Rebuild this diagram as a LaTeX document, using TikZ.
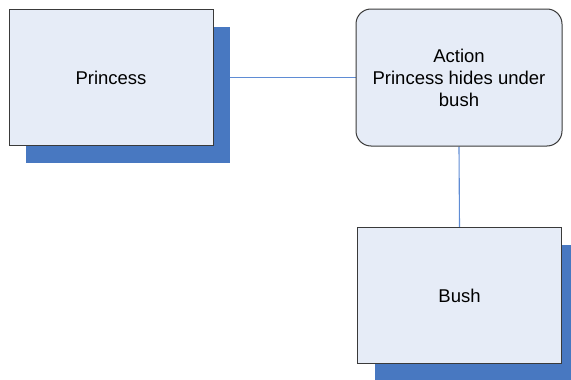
\documentclass[tikz,border=0pt]{standalone}
\usepackage{fontspec}
\setmainfont{Liberation Sans}
\usetikzlibrary{shadows,backgrounds}
\definecolor{boxfill}{HTML}{E6ECF7}
\definecolor{shadowblue}{HTML}{4878C1}
\definecolor{linkblue}{HTML}{5F8CD4}
\definecolor{edgegray}{HTML}{3A3A3A}
\tikzset{
  entity/.style={draw=edgegray, line width=1pt, fill=boxfill,
    minimum width=204pt, minimum height=136pt, inner sep=0pt,
    align=center, font=\fontsize{18.5}{22}\selectfont,
    general shadow={shadow xshift=17pt, shadow yshift=-17pt, fill=shadowblue}},
  action/.style={draw=edgegray, line width=1pt, fill=boxfill, rounded corners=15pt,
    minimum width=206pt, minimum height=137pt, inner sep=0pt,
    align=center, font=\fontsize{18.5}{22}\selectfont},
  link/.style={draw=linkblue, line width=1.1pt}
}
\begin{document}
\begin{tikzpicture}[x=1pt,y=-1pt]
  \useasboundingbox (0,0) rectangle (571,380);
  \clip (0,0) rectangle (571,380);
  \node[entity] (princess) at (111,77.5) {Princess};
  \node[action] (act) at (459,77.5) {Action\\Princess hides under\\bush};
  \node[entity] (bush) at (459.5,295.5) {Bush};
  % connectors sit behind the boxes and their shadows
  \begin{pgfonlayer}{background}
    \draw[link] (princess.east) -- (act.west);
    \draw[link] (act.south) -- (bush.north);
  \end{pgfonlayer}
\end{tikzpicture}
\end{document}
